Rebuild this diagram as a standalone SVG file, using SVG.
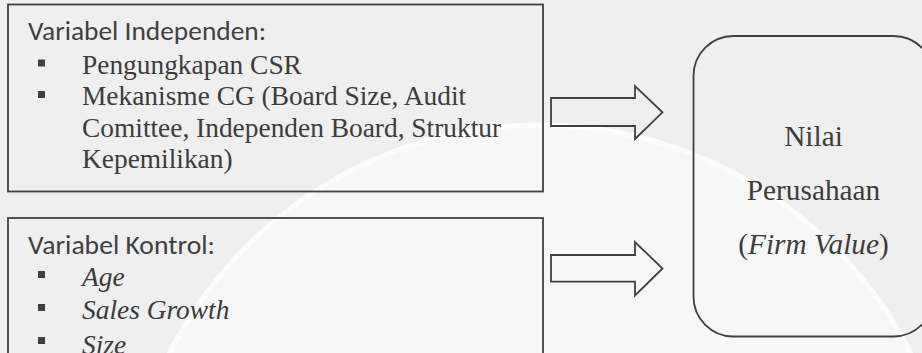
<svg xmlns="http://www.w3.org/2000/svg" width="922" height="353" viewBox="0 0 922 353">
<defs>
<style>
.box{fill:none;stroke:#404040;stroke-width:1.8}
.head{font-family:Carlito,Lato,'Open Sans',sans-serif;font-size:26px;fill:#404040}
.item{font-family:'Liberation Serif','Times New Roman',serif;font-size:27.4px;fill:#3c3c3c}
.it{font-style:italic}
.bul{fill:#404040}
.arrow{fill:none;stroke:#404040;stroke-width:1.8;stroke-linejoin:miter}
.mid{font-family:'Liberation Serif','Times New Roman',serif;font-size:29.3px;fill:#3c3c3c;text-anchor:middle}
</style>
</defs>
<rect width="922" height="353" fill="#efefef"/>
<circle cx="540" cy="540" r="415" fill="#f7f7f7" stroke="#fcfcfc" stroke-width="5"/>
<g id="independen">
<rect class="box" x="8" y="4.5" width="535" height="187"/>
<text class="head" x="28" y="40" textLength="238" lengthAdjust="spacingAndGlyphs">Variabel Independen:</text>
<rect class="bul" x="38" y="59.5" width="7" height="7"/>
<text class="item" x="82" y="73.5">Pengungkapan CSR</text>
<rect class="bul" x="38" y="91" width="7" height="7"/>
<text class="item" x="82" y="105">Mekanisme CG (Board Size, Audit</text>
<text class="item" x="82" y="136.5">Comittee, Independen Board, Struktur</text>
<text class="item" x="82" y="168">Kepemilikan)</text>
</g>
<g id="kontrol">
<rect class="box" x="8" y="218" width="535" height="160"/>
<text class="head" x="28" y="253.5" textLength="187" lengthAdjust="spacingAndGlyphs">Variabel Kontrol:</text>
<rect class="bul" x="38" y="271" width="7" height="7"/>
<text class="item it" x="82" y="286">Age</text>
<rect class="bul" x="38" y="304" width="7" height="7"/>
<text class="item it" x="82" y="319">Sales Growth</text>
<rect class="bul" x="38" y="337" width="7" height="7"/>
<text class="item it" x="82" y="354">Size</text>
</g>
<g id="connectors">
<path class="arrow" d="M551,98 H635 V86 L662.5,112.3 L635,139 V126 H551 Z"/>
<path class="arrow" d="M551,255 H635 V242 L662.5,268.5 L635,295.5 V281.7 H551 Z"/>
</g>
<g id="firm-value">
<rect class="box" x="693.5" y="36" width="240" height="300.5" rx="40"/>
<text class="mid" x="813.5" y="146">Nilai</text>
<text class="mid" x="813.5" y="200">Perusahaan</text>
<text class="mid" x="813.5" y="253.5">(<tspan class="it">Firm Value</tspan>)</text>
</g>
</svg>
